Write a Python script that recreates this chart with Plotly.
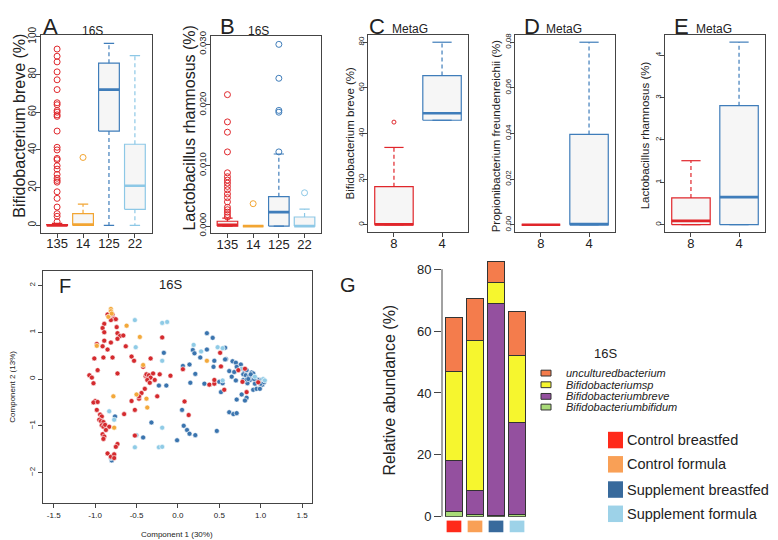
import plotly.graph_objects as go

W, H = 778, 540
FONT = "Liberation Sans, Arial, Helvetica, sans-serif"
INK = "#222222"

# ---------------- colours ----------------
C_RED, C_ORANGE, C_BLUE, C_LBLUE = "#E0262B", "#F2A532", "#3F7DBA", "#8DC8E6"
BOX_FILL = "#F6F6F6"
P_RED, P_ORANGE, P_BLUE, P_LBLUE = "#D42A2E", "#F3A83A", "#3A74AE", "#8FCBE6"
SQ_COLORS = ["#FF2A1A", "#F9A056", "#386A9C", "#9DD2E8"]
STACK_COLORS = ["#A9DB78", "#94509F", "#F6F62E", "#F47C4C"]

# ---------------- Panel A : B. breve (16S) ----------------
a_groups = ["135", "14", "125", "22"]
a_lower = [0, 0, 0, 0]
a_q1 = [0, 0, 50, 8.5]
a_median = [0, 0.4, 72, 21]
a_q3 = [0.4, 6.2, 86, 43]
a_upper = [1.0, 11.2, 96.5, 90]
a_out_cbf = [93.5, 89.7, 86.7, 81.4, 77.2, 72, 65, 64, 60.9, 60, 58.6, 57.8, 50,
             41.4, 40, 35.5, 34.8, 31.6, 29.8, 27, 25, 23.8, 22.9, 17.8, 14.3,
             9.7, 6.2, 4.8, 1.9]
a_out_cf = [36]

# ---------------- Panel B : L. rhamnosus (16S) ----------------
b_groups = ["135", "14", "125", "22"]
b_lower = [0, 0, 0, 0]
b_q1 = [0, 0, 0, 0]
b_median = [0.0002, 0, 0.0023, 0]
b_q3 = [0.0008, 0, 0.00485, 0.0015]
b_upper = [0.0013, 0, 0.0119, 0.0028]
b_out_cbf = [0.0217, 0.0172, 0.0155, 0.01225, 0.0088, 0.00815, 0.0076, 0.0071,
             0.00655, 0.0060, 0.0053, 0.0047, 0.0040, 0.0031, 0.0027, 0.0023,
             0.0019, 0.0015]
b_out_cf = [0.0037]
b_out_sbf = [0.0300, 0.0244, 0.0191, 0.0188, 0.01225]
b_out_sf = [0.0055]

# ---------------- Panels C-E : metagenomics ----------------
m_groups = ["8", "4"]
c_lower, c_q1, c_median, c_q3, c_upper = [0, 45.8], [0, 45.8], [0.2, 48.9], [16.7, 65.4], [33.9, 80]
c_out_red = [45]
d_lower, d_q1, d_median, d_q3, d_upper = [0, 0], [0, 0], [0, 0.0003], [0, 0.0396], [0, 0.080]
e_lower, e_q1, e_median, e_q3, e_upper = [0, 0], [0, 0], [0.09, 0.65], [0.63, 2.81], [1.51, 4.31]

# ---------------- Panel F : PCA (16S) ----------------
f_cbf = [(-0.85,1.38),(-0.79,1.38),(-0.83,1.33),(-0.77,1.29),(-0.81,1.26),(-0.75,1.28),
         (-0.89,1.18),(-0.91,1.09),(-0.74,1.11),(-0.89,1.00),(-0.73,0.98),(-0.70,0.92),
         (-0.66,0.93),(-0.73,0.86),(-0.89,0.82),(-0.81,0.78),(-0.98,0.75),(-0.91,0.70),
         (-0.85,0.63),(-0.63,0.70),(-1.01,0.44),(-0.90,0.46),(-0.79,0.46),(-0.56,0.48),
         (-0.53,0.39),(-0.97,0.19),(-0.73,0.12),(-1.07,0.08),(-1.04,0.03),(-1.02,-0.09),
         (-1.00,-0.47),(-1.02,-0.50),(-0.97,-0.49),(-0.98,-0.66),(-0.94,-0.76),(-0.92,-0.80),
         (-0.95,-0.87),(-0.93,-0.90),(-0.90,-0.92),(-0.92,-0.99),(-0.90,-1.02),(-0.88,-0.98),
         (-0.83,-1.02),(-0.87,-1.09),(-0.91,-1.18),(-0.89,-1.23),(-0.90,-1.28),(-0.73,-1.39),
         (-0.75,-1.45),(-0.85,-1.59),(-0.81,-1.66),(-0.77,-1.61),(-0.77,-1.69),(-0.65,-0.75),
         (-0.52,-1.21),(-0.42,0.26),(-0.39,0.06),(-0.37,0.05),(-0.40,-0.21),(-0.44,-0.30),
         (-0.47,-0.42),(-0.47,-0.37),(-0.56,-0.47),(-0.52,-0.66),(-0.33,0.44),(-0.38,0.10),
         (-0.35,0.08),(-0.33,0.03),(-0.37,-0.02),(-0.34,-0.08),(-0.30,0.12),(-0.28,-0.02),
         (-0.19,0.89),(-0.22,0.10),(-0.09,0.07),(-0.25,-0.37),(0.06,0.21),(0.08,-0.48),
         (0.13,-0.77),(0.51,0.56),(0.52,0.27),(0.38,-0.12),(0.44,-0.10),(0.44,-0.02),
         (0.56,-0.23),(0.73,0.19),(0.81,0.22),(0.97,-0.07),(0.78,-0.06),(0.83,-0.28)]
f_cf = [(-0.81,1.50),(-0.81,1.45),(-0.84,1.33),(-0.80,1.40),(-0.98,0.71),(-0.62,1.14),
        (-0.46,0.90),(-0.42,0.30),(-0.50,-0.33),(-0.38,-0.42),(-0.37,-0.61),(-0.78,-0.37),
        (-0.77,-1.04),(0.35,0.39)]
f_sf = [(-0.52,1.26),(-0.19,1.20),(-0.13,1.22),(-0.51,0.68),(-0.19,0.39),(-0.83,-0.69),
        (-0.77,-0.87),(-0.81,-1.69),(-0.50,-1.20),(-0.52,-1.46),(-0.23,-1.46),(-0.19,-1.45),
        (-0.19,-1.04),(0.19,0.73),(0.28,0.59),(0.48,0.68),(0.54,0.66),(0.54,-0.03),
        (0.77,0.22),(0.93,0.05),(1.03,0.00),(1.05,-0.03),(-0.35,0.02)]
f_sbf = [(-0.80,-1.74),(-0.76,-0.80),(-0.42,-1.25),(-0.32,-0.93),(-0.01,-1.31),(-0.17,0.56),
         (-0.23,-0.14),(-0.14,-0.14),(0.06,0.28),(0.14,0.31),(0.21,0.11),(0.15,-0.08),
         (0.05,-0.66),(0.07,-1.00),(0.11,-1.09),(0.14,-1.17),(0.21,-1.20),(0.35,0.98),
         (0.42,0.88),(0.18,0.62),(0.20,0.55),(0.35,0.63),(0.27,0.46),(0.57,0.67),
         (0.44,0.39),(0.58,0.43),(0.43,0.26),(0.32,-0.10),(0.50,-0.06),(0.54,-0.09),
         (0.52,-0.28),(0.47,-1.11),(0.57,0.42),(0.66,0.38),(0.70,0.35),(0.76,0.31),
         (0.71,0.26),(0.62,0.17),(0.68,0.15),(0.80,0.19),(0.83,0.19),(0.79,0.10),
         (0.82,0.08),(0.65,0.05),(0.89,0.14),(0.91,0.12),(0.91,0.05),(0.96,-0.01),
         (0.98,-0.02),(1.01,-0.02),(1.02,-0.12),(0.98,-0.08),(0.94,-0.04),(0.87,-0.02),
         (0.84,-0.09),(0.79,-0.02),(0.70,-0.03),(0.83,-0.01),(0.91,-0.23),(0.95,-0.21),
         (0.99,-0.21),(0.77,-0.33),(0.83,-0.40),(0.81,-0.46),(0.71,-0.44),(0.62,-0.71),
         (0.67,-0.75),(0.71,-0.73),(0.86,0.05),(0.88,0.10),(0.93,-0.10),(1.00,-0.10),
         (0.85,0.00),(0.92,0.00),(1.04,-0.07)]

# ---------------- Panel G : stacked relative abundance ----------------
g_groups = ["Control breastfed", "Control formula", "Supplement breastfed", "Supplement formula"]
g_species = ["Bifidobacteriumbifidum", "Bifidobacteriumbreve", "Bifidobacteriumsp", "unculturedbacterium"]
g_bifidum = [1.6, 0.85, 0.5, 0.6]
g_breve = [16.5, 7.55, 68.3, 30.0]
g_sp = [28.7, 48.7, 7.0, 21.5]
g_uncult = [17.5, 13.3, 6.7, 14.1]

# ================= figure =================
fig = go.Figure()


def dx(x0, x1):
    return [x0 / W, x1 / W]


def dy(top, bottom):
    return [1 - bottom / H, 1 - top / H]


def add_boxes(xa, ya, lower, q1, med, q3, upper, colors, outliers, osize):
    hw, cap = 0.4, 0.2
    for i in range(len(q1)):
        c = colors[i]
        kw = dict(xaxis=xa, yaxis=ya, showlegend=False, hoverinfo="skip")
        fig.add_trace(go.Scatter(x=[i - hw, i + hw, i + hw, i - hw, i - hw],
                                 y=[q1[i], q1[i], q3[i], q3[i], q1[i]], mode="lines",
                                 fill="toself", fillcolor=BOX_FILL,
                                 line=dict(color=c, width=1.2), **kw))
        fig.add_trace(go.Scatter(x=[i, i, None, i, i], y=[q3[i], upper[i], None, q1[i], lower[i]],
                                 mode="lines", line=dict(color=c, width=1.2, dash="4px,3px"), **kw))
        fig.add_trace(go.Scatter(x=[i - cap, i + cap, None, i - cap, i + cap],
                                 y=[upper[i], upper[i], None, lower[i], lower[i]],
                                 mode="lines", line=dict(color=c, width=1.2), **kw))
        fig.add_trace(go.Scatter(x=[i - hw, i + hw], y=[med[i], med[i]], mode="lines",
                                 line=dict(color=c, width=2.6), **kw))
        if outliers[i]:
            fig.add_trace(go.Scatter(x=[i] * len(outliers[i]), y=outliers[i], mode="markers",
                                     marker=dict(symbol="circle-open", size=osize, color=c,
                                                 line=dict(width=1, color=c)), **kw))


grp4 = [C_RED, C_ORANGE, C_BLUE, C_LBLUE]
add_boxes("x", "y", a_lower, a_q1, a_median, a_q3, a_upper, grp4, [a_out_cbf, a_out_cf, [], []], 6)
add_boxes("x2", "y2", b_lower, b_q1, b_median, b_q3, b_upper, grp4,
          [b_out_cbf, b_out_cf, b_out_sbf, b_out_sf], 6)
grp2 = [C_RED, C_BLUE]
add_boxes("x3", "y3", c_lower, c_q1, c_median, c_q3, c_upper, grp2, [c_out_red, []], 4)
add_boxes("x4", "y4", d_lower, d_q1, d_median, d_q3, d_upper, grp2, [[], []], 4)
add_boxes("x5", "y5", e_lower, e_q1, e_median, e_q3, e_upper, grp2, [[], []], 4)

# Panel F scatter
for pts, col in [(f_sbf, P_BLUE), (f_sf, P_LBLUE), (f_cbf, P_RED), (f_cf, P_ORANGE)]:
    fig.add_trace(go.Scatter(x=[p[0] for p in pts], y=[p[1] for p in pts], mode="markers",
                             marker=dict(size=5, color=col, line=dict(width=0.6, color="white")),
                             xaxis="x6", yaxis="y6", showlegend=False, hoverinfo="skip"))

# Panel G bars
gx = list(range(len(g_groups)))
for vals, col in zip([g_bifidum, g_breve, g_sp, g_uncult], STACK_COLORS):
    fig.add_trace(go.Bar(x=gx, y=vals, width=0.83, marker=dict(color=col, line=dict(color="#333333", width=1)),
                         xaxis="x7", yaxis="y7", showlegend=False, hoverinfo="skip"))

frame = dict(showline=True, mirror=True, linecolor="#444444", linewidth=1, showgrid=False,
             zeroline=False, ticks="outside", ticklen=4, tickcolor="#444444", tickwidth=1,
             fixedrange=True)
xfr = dict(frame, ticklabelstandoff=-5)
yfr = dict(frame, ticklabelstandoff=-4)

lay = dict(width=W, height=H, autosize=False, margin=dict(l=0, r=0, t=0, b=0),
           paper_bgcolor="white", plot_bgcolor="white", barmode="stack",
           font=dict(family=FONT, color=INK), showlegend=False)

# A
lay["xaxis"] = dict(xfr, domain=dx(32.5, 143.5), anchor="y", range=[-0.64, 3.64],
                    tickvals=list(range(4)), ticktext=a_groups, tickfont=dict(size=13))
lay["yaxis"] = dict(yfr, domain=dy(19.5, 223.3), anchor="x", range=[-3.9, 101],
                    tickvals=[0, 20, 40, 60, 80, 100], tickangle=-90, tickfont=dict(size=10))
# B
lay["xaxis2"] = dict(xfr, domain=dx(203, 313), anchor="y2", range=[-0.64, 3.64],
                     tickvals=list(range(4)), ticktext=b_groups, tickfont=dict(size=13))
lay["yaxis2"] = dict(yfr, domain=dy(20.5, 224), anchor="x2", range=[-0.0012, 0.0314],
                     tickvals=[0, 0.01, 0.02, 0.03], ticktext=["0.000", "0.010", "0.020", "0.030"],
                     tickangle=-90, tickfont=dict(size=9.5))
# C, D, E
for n, (x0, rng, tv, tt) in zip([3, 4, 5], [
        (360, [-3.2, 83.2], [0, 20, 40, 60, 80], ["0", "20", "40", "60", "80"]),
        (507, [-0.0032, 0.0832], [0, 0.02, 0.04, 0.06, 0.08], ["0.00", "0.02", "0.04", "0.06", "0.08"]),
        (657, [-0.176, 4.48], [0, 1, 2, 3, 4], ["0", "1", "2", "3", "4"])]):
    lay[f"xaxis{n}"] = dict(xfr, domain=dx(x0, x0 + 100), anchor=f"y{n}", range=[-0.54, 1.54],
                            tickvals=[0, 1], ticktext=m_groups, tickfont=dict(size=13))
    lay[f"yaxis{n}"] = dict(yfr, domain=dy(19.5, 222.7), anchor=f"x{n}", range=rng,
                            tickvals=tv, ticktext=tt, tickangle=-90, tickfont=dict(size=8))
# F
lay["xaxis6"] = dict(frame, domain=dx(35, 304), anchor="y6", range=[-1.63, 1.62],
                     tickvals=[-1.5, -1, -0.5, 0, 0.5, 1, 1.5],
                     ticktext=["-1.5", "-1.0", "-0.5", "0.0", "0.5", "1.0", "1.5"],
                     tickfont=dict(size=8))
lay["yaxis6"] = dict(frame, domain=dy(262.3, 502.3), anchor="x6", range=[-2.66, 2.32],
                     tickvals=[-2, -1, 0, 1, 2], tickangle=-90, tickfont=dict(size=8))
# G
lay["xaxis7"] = dict(domain=dx(434, 521), anchor="y7", range=[-0.57, 3.57], visible=False,
                     fixedrange=True)
lay["yaxis7"] = dict(domain=dy(245, 516), anchor="x7", range=[0, 85], showgrid=False,
                     zeroline=False, showline=False, ticks="outside", ticklen=7,
                     tickcolor="#444444", tickvals=[0, 20, 40, 60, 80], tickfont=dict(size=13),
                     fixedrange=True)

shapes = []
# G axis line (0 to 80)
shapes.append(dict(type="line", xref="paper", yref="y7", x0=434 / W, x1=434 / W, y0=0, y1=80,
                   line=dict(color="#444444", width=1)))
# group colour squares under bars
for i, col in enumerate(SQ_COLORS):
    shapes.append(dict(type="rect", xref="x7", yref="paper", x0=i - 0.35, x1=i + 0.35,
                       y0=1 - 532 / H, y1=1 - 520 / H, fillcolor=col, line=dict(width=0)))


def ann(text, x, y, size, angle=0, xanchor="center", italic=False):
    if italic:
        text = f"<i>{text}</i>"
    return dict(text=text, x=x / W, y=1 - y / H, xref="paper", yref="paper", showarrow=False,
                font=dict(size=size, family=FONT, color=INK), textangle=angle,
                xanchor=xanchor, yanchor="middle")


anns = [
    ann("A", 42, 11, 22), ann("16S", 84, 15, 12),
    ann("B", 219, 11, 22), ann("16S", 250, 15, 12),
    ann("C", 369, 11, 22), ann("MetaG", 402, 13, 12),
    ann("D", 524, 11, 22), ann("MetaG", 556, 13, 12),
    ann("E", 673, 11, 22), ann("MetaG", 706, 13, 12),
    ann("Bifidobacterium breve (%)", 12, 113, 16, -90),
    ann("Lactobacillus rhamnosus (%)", 182, 116, 16, -90),
    ann("Bifidobacterium breve (%)", 342, 121, 11.5, -90),
    ann("Propionibacterium freundenreichii (%)", 488, 124, 11.5, -90),
    ann("Lactobacillus rhamnosus (%)", 637, 123, 11.5, -90),
    ann("F", 57, 278, 20), ann("16S", 162, 277, 13),
    ann("Component 1 (30%)", 169, 534, 8), ann("Component 2 (13%)", 5, 382, 8, -90),
    ann("G", 340, 277, 20),
    ann("Relative abundance (%)", 382, 386, 16, -90),
    ann("16S", 597, 348, 13),
]

# species legend (top to bottom: uncultured, sp, breve, bifidum)
leg_rows = [368, 380, 392, 403]
for row_y, name, col in zip(leg_rows, g_species[::-1], STACK_COLORS[::-1]):
    shapes.append(dict(type="rect", xref="paper", yref="paper", x0=533 / W, x1=543 / W,
                       y0=1 - (row_y + 3) / H, y1=1 - (row_y - 3) / H, fillcolor=col,
                       line=dict(color="#333333", width=1)))
    anns.append(ann(name, 556, row_y, 11, xanchor="left", italic=True))

# group legend
grp_rows = [437, 462, 488, 513]
for row_y, name, col in zip(grp_rows, g_groups, SQ_COLORS):
    shapes.append(dict(type="rect", xref="paper", yref="paper", x0=600 / W, x1=615 / W,
                       y0=1 - (row_y + 8.5) / H, y1=1 - (row_y - 8.5) / H, fillcolor=col,
                       line=dict(width=0)))
    anns.append(ann(name, 617, row_y, 14.5, xanchor="left"))

lay["shapes"] = shapes
lay["annotations"] = anns
fig.update_layout(**lay)
fig.write_html("out.html")
